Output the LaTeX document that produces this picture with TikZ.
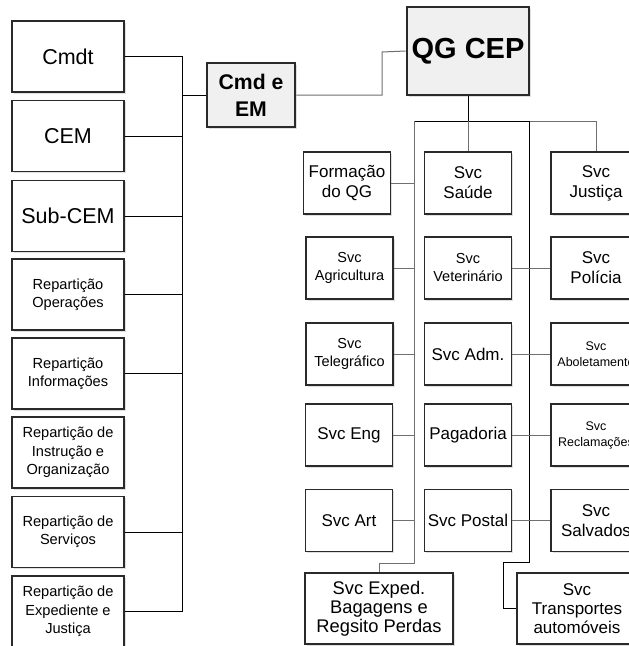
\documentclass[tikz,border=0pt]{standalone}
\usepackage{fontspec}
\setmainfont{Liberation Sans}
\usetikzlibrary{shadows}
\newcommand{\myfs}[2]{\fontsize{#1}{#2}\selectfont}
\definecolor{lgray}{HTML}{707070}
\definecolor{bordc}{HTML}{2A2A2A}
\definecolor{hqfill}{HTML}{F0F0F0}
\tikzset{
  box/.style={draw=bordc, line width=1.1pt, fill=white, align=center, inner sep=0pt,
    drop shadow={opacity=0.25, shadow xshift=1.6pt, shadow yshift=-1.6pt}},
  lbox/.style={box, minimum width=112pt, minimum height=71pt},
  sbox/.style={box, minimum width=87pt, minimum height=62pt},
  rbox/.style={box, minimum width=90pt, minimum height=62pt},
  hq/.style={box, line width=2.6pt, fill=hqfill, font=\bfseries},
  blk/.style={draw=black, line width=0.9pt},
  gry/.style={draw=lgray, line width=1pt},
}
\begin{document}
\begin{tikzpicture}[x=1pt,y=-1pt]
\clip (0,0) rectangle (629,646);
\fill[white] (0,0) rectangle (629,646);
% left column
\node[lbox, font=\myfs{21.5}{24}] (cmdt) at (68,56.5) {Cmdt};
\node[lbox, font=\myfs{21.5}{24}] (cem) at (68,136) {CEM};
\node[lbox, font=\myfs{21.5}{24}] (subcem) at (68,216) {Sub-CEM};
\node[lbox, font=\myfs{14.6}{18}] (rop) at (68,294.5) {Repartição\\Operações};
\node[lbox, font=\myfs{14.6}{18}] (rinf) at (68,373.5) {Repartição\\Informações};
\node[lbox, font=\myfs{14.6}{18.3}] (rinst) at (68,452.5) {Repartição de\\Instrução e\\Organização};
\node[lbox, font=\myfs{14.6}{18}] (rserv) at (68,532) {Repartição de\\Serviços};
\node[lbox, font=\myfs{14.6}{18.3}] (rexp) at (68,611.5) {Repartição de\\Expediente e\\Justiça};
% headquarters
\node[hq, minimum width=88pt, minimum height=64pt, font=\bfseries\myfs{21.2}{27}] (cmdem) at (251,95) {Cmd e\\EM};
\node[hq, minimum width=122pt, minimum height=88pt, font=\bfseries\myfs{29}{32}] (qg) at (468,51) {QG CEP};
% left bus
\draw[blk] (cmdt.east) -- (182,56.5) -- (182,611.5) -- (rexp.east);
\draw[blk] (cem.east) -- (182,136);
\draw[blk] (subcem.east) -- (182,216);
\draw[blk] (rop.east) -- (182,294.5);
\draw[blk] (rinf.east) -- (182,373.5);
\draw[blk] (rserv.east) -- (182,532);
\draw[blk] (182,95) -- (cmdem.west);
\draw[gry] (cmdem.east) -- (382,95) -- (382,52) -- (qg.west);
% service columns
\node[sbox, font=\myfs{17}{20}] (form) at (347,183) {Formação\\do QG};
\node[sbox, font=\myfs{14.5}{18}] (agri) at (349.5,268) {Svc\\Agricultura};
\node[sbox, font=\myfs{14.5}{18}] (tele) at (349.5,354) {Svc\\Telegráfico};
\node[sbox, font=\myfs{17}{20}] (eng) at (349,435) {Svc Eng};
\node[sbox, font=\myfs{17}{20}] (art) at (349,520.5) {Svc Art};
\node[sbox, font=\myfs{17}{20}] (saude) at (468,183) {Svc\\Saúde};
\node[sbox, font=\myfs{14.5}{18}] (vet) at (468,268) {Svc\\Veterinário};
\node[sbox, font=\myfs{17}{20}] (adm) at (468,354) {Svc Adm.};
\node[sbox, font=\myfs{17}{20}] (pag) at (468,435) {Pagadoria};
\node[sbox, font=\myfs{17}{20}] (postal) at (468,520.5) {Svc Postal};
\node[rbox, font=\myfs{17}{20}] (just) at (596,183) {Svc\\Justiça};
\node[rbox, font=\myfs{17}{20}] (pol) at (596,268) {Svc\\Polícia};
\node[rbox, font=\myfs{12.5}{16}] (abol) at (596,354) {Svc\\Aboletamento};
\node[rbox, font=\myfs{12.5}{16}] (recl) at (596,435) {Svc\\Reclamações};
\node[rbox, font=\myfs{17}{20}] (salv) at (596,520.5) {Svc\\Salvados};
\node[box, minimum width=148pt, minimum height=71pt, font=\myfs{18.3}{18.8}] (exped) at (379,608.5) {Svc Exped.\\Bagagens e\\Regsito Perdas};
\node[box, minimum width=120pt, minimum height=71pt, font=\myfs{17}{18.8}] (trans) at (577,608.5) {Svc\\Transportes\\automóveis};
% connectors
\draw[blk] (qg.south) -- (468,121);
\draw[blk] (414,121) -- (529,121);
\draw[gry] (529,121) -| (just.north);
\draw[gry] (468,121) -- (saude.north);
\draw[gry] (414,121) -- (414,563) -- (379,563) -- (exped.north);
\draw[blk] (529,121) -- (529,562) -- (503,562) -- (503,608.5) -- (trans.west);
\draw[gry] (form.east) -- (414,183);
\draw[gry] (agri.east) -- (414,268);
\draw[gry] (tele.east) -- (414,354);
\draw[gry] (eng.east) -- (414,435);
\draw[gry] (art.east) -- (414,520.5);
\draw[gry] (vet.east) -- (pol.west);
\draw[gry] (adm.east) -- (abol.west);
\draw[gry] (pag.east) -- (recl.west);
\draw[gry] (postal.east) -- (salv.west);
\end{tikzpicture}
\end{document}
